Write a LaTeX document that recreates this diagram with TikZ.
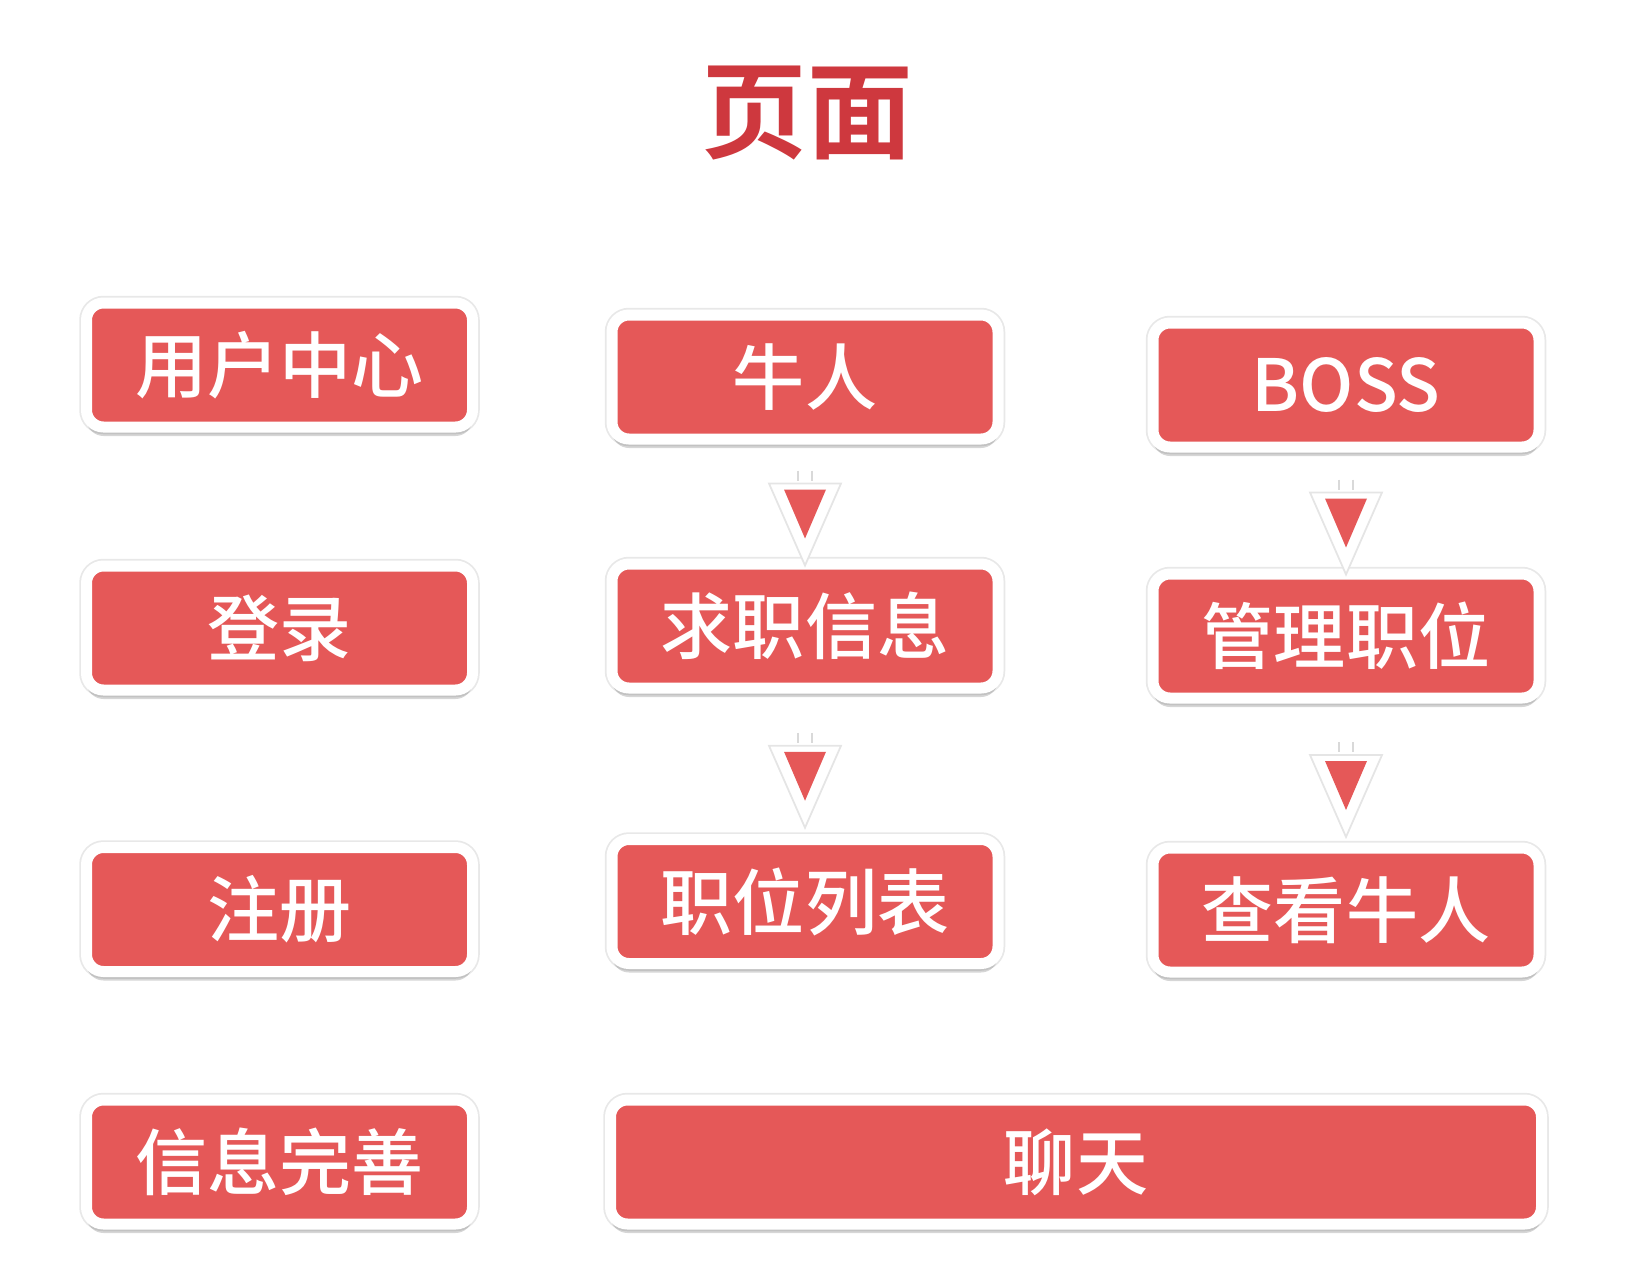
\documentclass[tikz,border=0pt]{standalone}
\usepackage{fontspec}
\newfontfamily\cjk{Noto Sans CJK SC}[UprightFont=* Medium]
\newfontfamily\cjktitle{Noto Sans CJK SC}[UprightFont=* Bold]
\usetikzlibrary{shadows, calc}
\definecolor{boxred}{RGB}{229,88,88}
\definecolor{titlered}{RGB}{206,56,62}

\begin{document}
\begin{tikzpicture}[
    box/.style={rectangle, rounded corners=0.17cm, fill=boxred, draw=white,
                line width=0.11cm, minimum width=3.86cm, minimum height=1.24cm,
                inner sep=0pt, text=white, font=\cjk\fontsize{20.5}{24}\selectfont,
                preaction={draw=black!9, line width=0.145cm},
                drop shadow={shadow xshift=0cm, shadow yshift=-0.09cm,
                             fill=black, opacity=0.16}},
    tipback/.style={fill=white, draw=black!10, line width=0.5pt},
    tipfront/.style={fill=boxred},
    tipmark/.style={draw=black!15, line width=0.5pt}
]
    \useasboundingbox (0,0) rectangle (16.36,-12.64);

    % Title
    \node[font=\cjktitle\fontsize{30}{34}\selectfont, text=titlered] (title) at (8.07,-1.13) {页面};

    % Left column
    \node[box] (user) at (2.795,-3.65) {用户中心};
    \node[box] (login) at (2.795,-6.28) {登录};
    \node[box] (register) at (2.795,-9.095) {注册};
    \node[box] (profile) at (2.795,-11.62) {信息完善};

    % Middle column
    \node[box] (niuren) at (8.05,-3.77) {牛人};
    \node[box] (jobinfo) at (8.05,-6.26) {求职信息};
    \node[box] (joblist) at (8.05,-9.015) {职位列表};

    % Right column
    \node[box] (boss) at (13.46,-3.85) {BOSS};
    \node[box] (manage) at (13.46,-6.36) {管理职位};
    \node[box] (viewniuren) at (13.46,-9.10) {查看牛人};

    % Chat across both columns
    \node[box, minimum width=9.31cm] (chat) at (10.76,-11.62) {聊天};

    % Down arrows between boxes
    \foreach \from/\to in {niuren/jobinfo, jobinfo/joblist, boss/manage, manage/viewniuren} {
        \coordinate (m) at ($(\from.south)!0.5!(\to.north)$);
        \draw[tipmark] ($(m)+(-0.07,0.31)$) -- ++(0,-0.1);
        \draw[tipmark] ($(m)+(0.07,0.31)$) -- ++(0,-0.1);
        \filldraw[tipback] ($(m)+(-0.36,0.18)$) -- ($(m)+(0.36,0.18)$) -- ($(m)+(0,-0.64)$) -- cycle;
        \fill[tipfront] ($(m)+(-0.21,0.12)$) -- ($(m)+(0.21,0.12)$) -- ($(m)+(0,-0.37)$) -- cycle;
    }
\end{tikzpicture}
\end{document}
